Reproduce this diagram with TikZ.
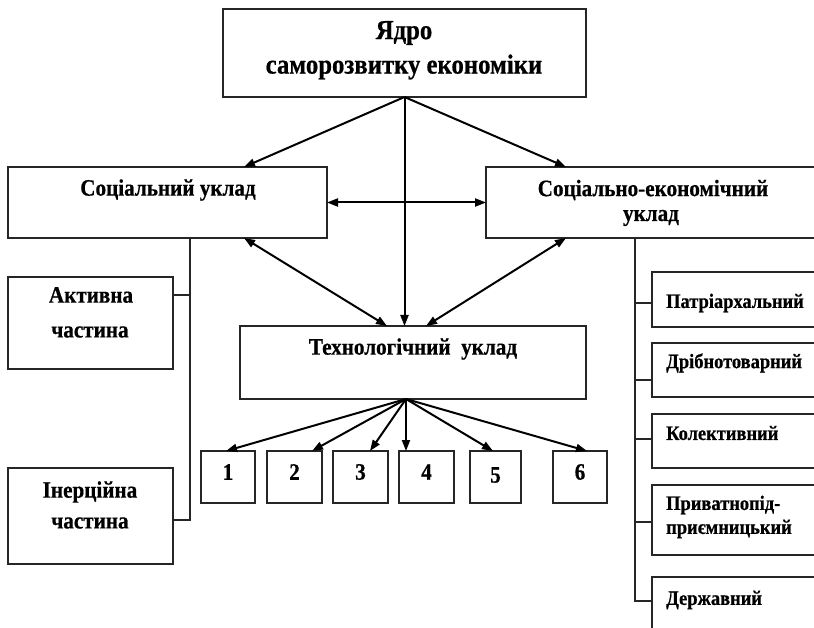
\documentclass[tikz,border=0pt]{standalone}
\usepackage{fontspec}
\setmainfont{Liberation Serif}
\newfontfamily\cond[FakeStretch=0.9,BoldFeatures={FakeBold=0.6}]{Liberation Serif}
\usetikzlibrary{arrows.meta}
\begin{document}
\begin{tikzpicture}[x=1pt,y=-1pt,
 box/.style={draw=black!85,line width=1.1pt,inner sep=0pt,outer sep=0pt,anchor=north west},
 arr/.style={line width=2pt,-{Triangle[length=11pt,width=8pt]}},
 darr/.style={line width=2pt,{Triangle[length=11pt,width=8pt]}-{Triangle[length=11pt,width=8pt]}},
 conn/.style={line width=1.1pt,draw=black!85},
 txt/.style={font=\cond\bfseries\fontsize{23.5}{26}\selectfont,inner sep=0pt},
 big/.style={font=\cond\bfseries\fontsize{27.5}{30}\selectfont,inner sep=0pt},
 small/.style={font=\cond\bfseries\fontsize{20.5}{23}\selectfont,inner sep=0pt,anchor=west}]
\useasboundingbox (0,0) rectangle (814,628);
\clip (0,0) rectangle (814,628);
% boxes
\node[box,minimum width=363pt,minimum height=88pt] (core) at (223,9) {};
\node[box,minimum width=319pt,minimum height=71pt] (soc) at (8,167) {};
\node[box,minimum width=340pt,minimum height=71pt] (se) at (486,167) {};
\node[box,minimum width=165pt,minimum height=92pt] (act) at (8,277) {};
\node[box,minimum width=165pt,minimum height=96pt] (iner) at (8,468) {};
\node[box,minimum width=346pt,minimum height=73pt] (tech) at (240,326) {};
\node[box,minimum width=54pt,minimum height=52pt] (n1) at (201,451) {};
\node[box,minimum width=55pt,minimum height=52pt] (n2) at (267,451) {};
\node[box,minimum width=55pt,minimum height=52pt] (n3) at (333,451) {};
\node[box,minimum width=55pt,minimum height=52pt] (n4) at (399,451) {};
\node[box,minimum width=51pt,minimum height=52pt] (n5) at (470,451) {};
\node[box,minimum width=54pt,minimum height=52pt] (n6) at (553,451) {};
\node[box,minimum width=180pt,minimum height=55pt] (r1) at (652,272) {};
\node[box,minimum width=180pt,minimum height=54pt] (r2) at (652,343) {};
\node[box,minimum width=180pt,minimum height=54pt] (r3) at (652,414) {};
\node[box,minimum width=180pt,minimum height=70pt] (r4) at (652,485) {};
\node[box,minimum width=180pt,minimum height=80pt] (r5) at (652,577) {};
% texts
\node[big] (t1) at (404,33) {Ядро};
\node[big] (t2) at (404,67) {саморозвитку економіки};
\node[txt] (tsoc) at (168,190) {Соціальний уклад};
\node[txt] (tse1) at (653,190) {Соціально-економічний};
\node[txt] (tse2) at (651,218) {уклад};
\node[txt] (ta1) at (91,295) {Активна};
\node[txt] (ta2) at (90,332) {частина};
\node[txt] (ti1) at (90,492) {Інерційна};
\node[txt] (ti2) at (90,523) {частина};
\node[txt] (tt) at (413,349) {Технологічний\ \ уклад};
\node[txt] (tn1) at (228,472) {1};
\node[txt] (tn2) at (294.5,472) {2};
\node[txt] (tn3) at (360.5,472) {3};
\node[txt] (tn4) at (426.5,472) {4};
\node[txt] (tn5) at (495.5,475) {5};
\node[txt] (tn6) at (580,472) {6};
\node[small] (tr1) at (666,303) {Патріархальний};
\node[small] (tr2) at (666,363) {Дрібнотоварний};
\node[small] (tr3) at (666,433) {Колективний};
\node[small] (tr4a) at (666,505) {Приватнопід-};
\node[small] (tr4b) at (666,529) {приємницький};
\node[small] (tr5) at (666,600) {Державний};
% coordinates
\coordinate (socTop) at (244,167);
\coordinate (seTop) at (566,167);
\coordinate (socBot) at (244,238);
\coordinate (seBot) at (566,238);
\coordinate (techL) at (387,326);
\coordinate (techR) at (426,326);
\coordinate (tb) at (406,399);
\coordinate (a1) at (226,451);
\coordinate (a2) at (312,451);
\coordinate (a3) at (370,451);
\coordinate (a4) at (406,451);
\coordinate (a5) at (493,451);
\coordinate (a6) at (587,451);
\coordinate (lt) at (190,238);
\coordinate (actC) at (173,295);
\coordinate (inerC) at (173,520);
\coordinate (rt) at (635,238);
\coordinate (c1) at (652,303);
\coordinate (c2) at (652,380);
\coordinate (c3) at (652,439);
\coordinate (c4) at (652,522);
\coordinate (c5) at (652,601);
% arrows
\draw[arr] (core.south) -- (socTop);
\draw[arr] (core.south) -- (seTop);
\draw[arr] (core.south) -- (core.south |- tech.north);
\draw[darr] (soc.east) -- (se.west);
\draw[darr] (socBot) -- (techL);
\draw[darr] (seBot) -- (techR);
\foreach \t in {a1,a2,a3,a4,a5,a6} \draw[arr] (tb) -- (\t);
% connectors
\draw[conn] (lt) |- (inerC);
\draw[conn] (actC) -- (actC -| lt);
\draw[conn] (rt) |- (c5);
\foreach \c in {c1,c2,c3,c4} \draw[conn] (\c -| rt) -- (\c);
\end{tikzpicture}
\end{document}
